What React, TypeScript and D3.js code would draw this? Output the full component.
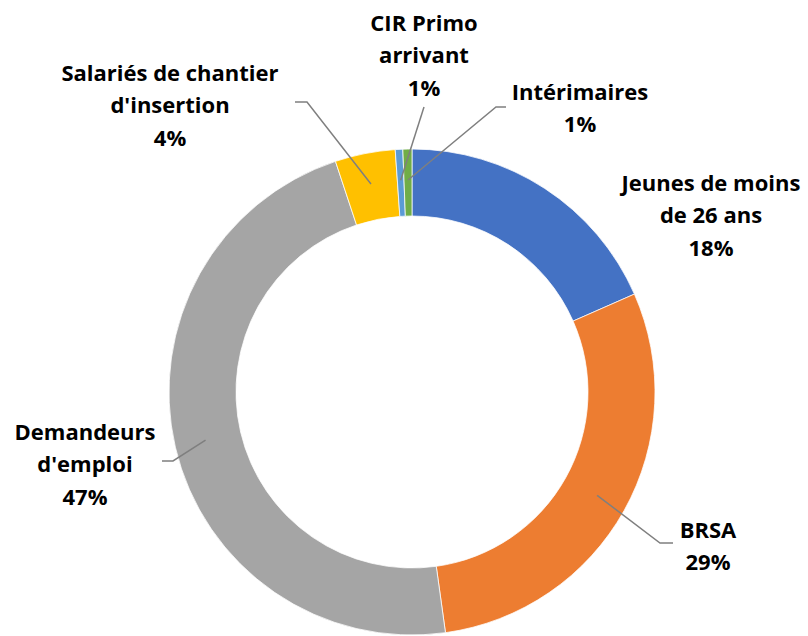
import React from "react";
import * as d3 from "d3";

// categories, clockwise from 12 o'clock
const categories = [
	"Jeunes de moins de 26 ans",
	"BRSA",
	"Demandeurs d'emploi",
	"Salariés de chantier d'insertion",
	"CIR Primo arrivant",
	"Intérimaires",
];
// share of each public (%)
const shares = [18.4, 29.4, 47.1, 4.0, 0.5, 0.6];
// how each label wraps
const labelLines = [
	["Jeunes de moins", "de 26 ans"],
	["BRSA"],
	["Demandeurs", "d'emploi"],
	["Salariés de chantier", "d'insertion"],
	["CIR Primo", "arrivant"],
	["Intérimaires"],
];
const colors = ["#4472C4", "#ED7D31", "#A5A5A5", "#FFC000", "#5B9BD5", "#70AD47"];

// label placement (layout only): text centre, first line y, leader elbow / end
const labelLayout = [
	{ x: 711, y: 183, leader: null },
	{ x: 708, y: 530, leader: [[660, 543], [673, 543]] },
	{ x: 85, y: 432, leader: [[173, 461], [162, 461]] },
	{ x: 170, y: 73, leader: [[307, 102], [295, 102]] },
	{ x: 424, y: 23, leader: [[424, 107]] },
	{ x: 580, y: 92, leader: [[496, 107], [506, 107]] },
];

const width = 808;
const height = 636;
const cx = 412;
const cy = 392;
const outerR = 243;
const innerR = 176;
const lineH = 32.5;

const App = () => {
	const pie = d3
		.pie<number>()
		.sort(null)
		.value((d) => d)
		.startAngle(0)
		.endAngle(2 * Math.PI);
	const arcs = pie(shares);
	const arc = d3.arc<d3.PieArcDatum<number>>().innerRadius(innerR).outerRadius(outerR);
	const anchorArc = d3.arc<d3.PieArcDatum<number>>().innerRadius(212).outerRadius(212);
	const total = d3.sum(shares);
	const line = d3.line();

	return (
		<svg
			width={width}
			height={height}
			style={{ position: "absolute", left: 0, top: 0, background: "#fff" }}
			fontFamily="'Open Sans', 'Noto Sans', sans-serif"
		>
			<g transform={`translate(${cx},${cy})`}>
				{arcs.map((a, i) => (
					<path key={i} d={arc(a) || ""} fill={colors[i]} stroke="#fff" strokeWidth={0.75} />
				))}
			</g>
			{arcs.map((a, i) => {
				const lay = labelLayout[i];
				if (!lay.leader) return null;
				const [ax, ay] = anchorArc.centroid(a);
				const pts: [number, number][] = [[cx + ax, cy + ay], ...(lay.leader as [number, number][])];
				return (
					<path key={i} d={line(pts) || ""} fill="none" stroke="#7F7F7F" strokeWidth={1.5} />
				);
			})}
			{categories.map((c, i) => {
				const lay = labelLayout[i];
				const lines = [...labelLines[i], `${Math.round((shares[i] / total) * 100)}%`];
				return (
					<text
						key={c}
						textAnchor="middle"
						fontSize={22}
						fontWeight={700}
						fill="#000"
					>
						{lines.map((t, j) => (
							<tspan key={j} x={lay.x} y={lay.y + j * lineH} dy="0.35em">
								{t}
							</tspan>
						))}
					</text>
				);
			})}
		</svg>
	);
};

export default App;
